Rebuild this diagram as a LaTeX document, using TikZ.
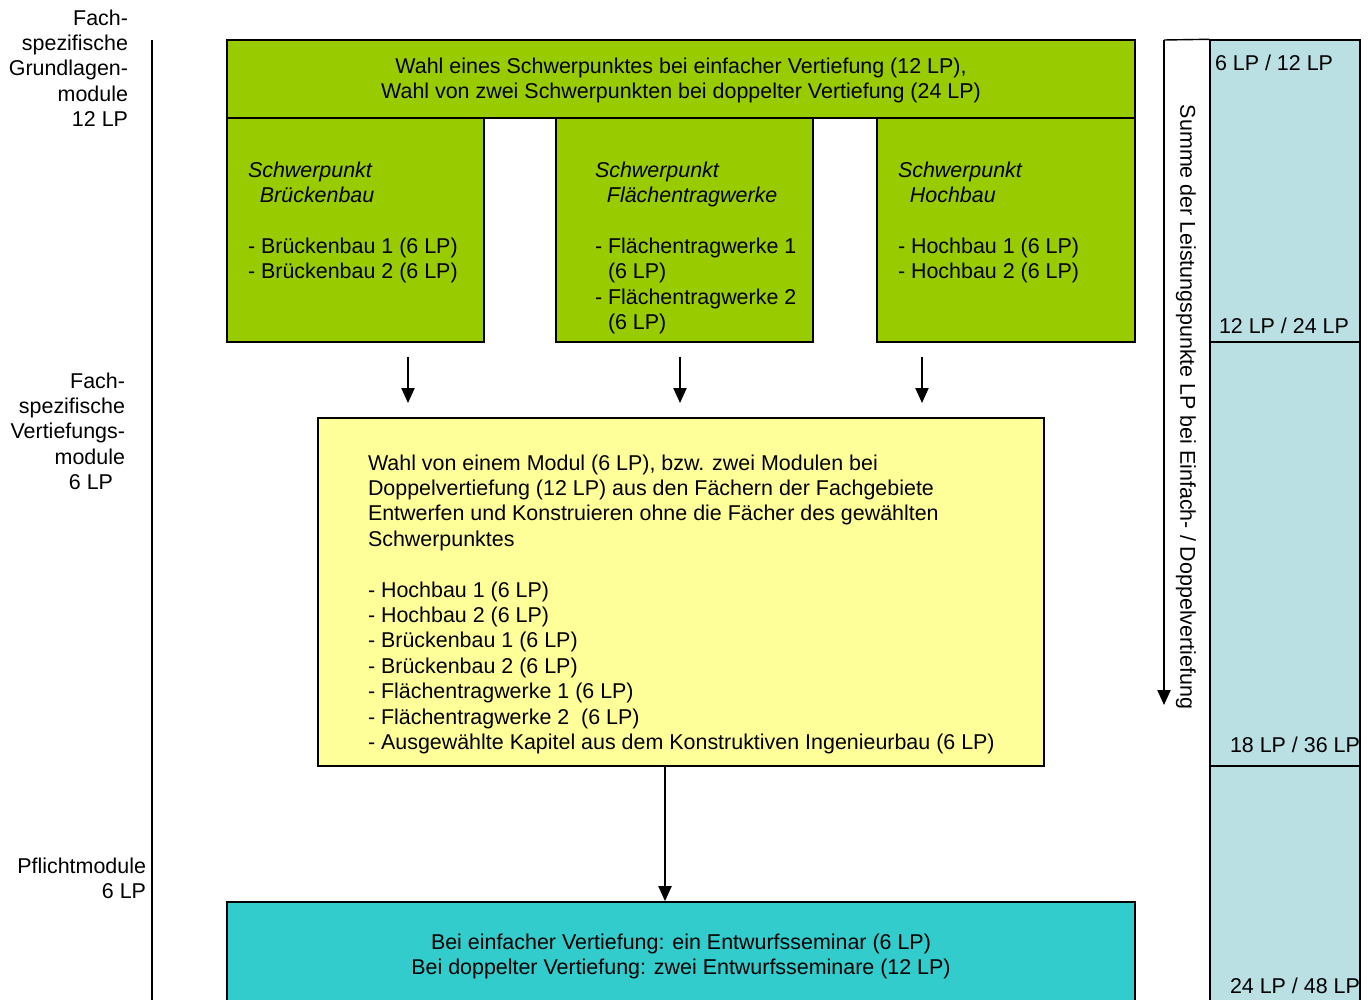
\documentclass[tikz,border=0pt]{standalone}
\usepackage{fontspec}
\setmainfont{Liberation Sans}
\usetikzlibrary{arrows.meta,fit}
\definecolor{modgreen}{RGB}{153,204,0}
\definecolor{modyellow}{RGB}{255,255,153}
\definecolor{modcyan}{RGB}{51,204,204}
\definecolor{sumblue}{RGB}{186,224,228}
\begin{document}
\begin{tikzpicture}[x=0.02cm,y=-0.02cm]
\tikzset{
  basefont/.style={font=\fontsize{12.2}{14.46}\selectfont, inner sep=0pt, outer sep=0pt},
  box/.style={draw=black, line width=0.8pt, inner sep=0pt},
  sidelbl/.style={basefont, align=right, anchor=north east},
  bodytxt/.style={basefont, align=left, anchor=north west},
  arr/.style={-{Triangle[length=8.5pt,width=7.5pt]}, line width=0.8pt},
}
\useasboundingbox (0,0) rectangle (1370,1000);

% left scale line and category labels
\coordinate (scaletop) at (152,40);
\coordinate (scalebot) at (152,1010);
\draw[line width=0.9pt] (scaletop) -- (scalebot);
\node[sidelbl] (lblA) at (128,9.5) {Fach-\\spezifische\\Grundlagen-\\module\hspace*{0.28em}\\12 LP};
\node[sidelbl] (lblB) at (125,372.5) {Fach-\\spezifische\\Vertiefungs-\\module\\6 LP\hspace*{0.56em}};
\node[sidelbl] (lblC) at (146,857.5) {Pflichtmodule\\6 LP};

% choice of focus areas
\node[box, fill=modgreen, fit={(227,40)(1135,118)}] (top) {};
\node[basefont, align=center, anchor=north] (toptxt) at (681,58)
  {Wahl eines Schwerpunktes bei einfacher Vertiefung (12 LP),\\Wahl von zwei Schwerpunkten bei doppelter Vertiefung (24 LP)};

\node[box, fill=modgreen, fit={(227,118)(484,342)}] (sp1) {};
\node[box, fill=modgreen, fit={(556,118)(813,342)}] (sp2) {};
\node[box, fill=modgreen, fit={(877,118)(1135,342)}] (sp3) {};
\draw[line width=0.8pt] (top.south west) -- (top.south east);

\node[bodytxt] (sp1txt) at (248,161.5)
  {\textit{Schwerpunkt}\\\hspace*{6.8pt}\textit{Brückenbau}\\[\baselineskip]- Brückenbau 1 (6 LP)\\- Brückenbau 2 (6 LP)};
\node[bodytxt] (sp2txt) at (595,161.5)
  {\textit{Schwerpunkt}\\\hspace*{6.8pt}\textit{Flächentragwerke}\\[\baselineskip]- Flächentragwerke 1\\\hspace*{7.4pt}(6 LP)\\- Flächentragwerke 2\\\hspace*{7.4pt}(6 LP)};
\node[bodytxt] (sp3txt) at (898,161.5)
  {\textit{Schwerpunkt}\\\hspace*{6.8pt}\textit{Hochbau}\\[\baselineskip]- Hochbau 1 (6 LP)\\- Hochbau 2 (6 LP)};

% arrows to the elective block
\coordinate (a1s) at (408,357); \coordinate (a1e) at (408,403);
\coordinate (a2s) at (680,357); \coordinate (a2e) at (680,403);
\coordinate (a3s) at (922,357); \coordinate (a3e) at (922,403);
\draw[arr] (a1s) -- (a1e);
\draw[arr] (a2s) -- (a2e);
\draw[arr] (a3s) -- (a3e);

% elective modules
\node[box, fill=modyellow, line width=1pt, fit={(318,418)(1044,766)}] (elect) {};
\node[bodytxt] (electtxt) at (368,454.5)
  {Wahl von einem Modul (6 LP), bzw. zwei Modulen bei\\
   Doppelvertiefung (12 LP) aus den Fächern der Fachgebiete\\
   Entwerfen und Konstruieren ohne die Fächer des gewählten\\
   Schwerpunktes\\[\baselineskip]
   - Hochbau 1 (6 LP)\\
   - Hochbau 2 (6 LP)\\
   - Brückenbau 1 (6 LP)\\
   - Brückenbau 2 (6 LP)\\
   - Flächentragwerke 1 (6 LP)\\
   - Flächentragwerke 2 \ (6 LP)\\
   - Ausgewählte Kapitel aus dem Konstruktiven Ingenieurbau (6 LP)};

% compulsory seminar
\node[box, fill=modcyan, line width=1pt, fit={(227,902)(1135,1012)}] (sem) {};
\node[basefont, align=center, anchor=north] (semtxt) at (681,933.5)
  {Bei einfacher Vertiefung: ein Entwurfsseminar (6 LP)\\Bei doppelter Vertiefung: zwei Entwurfsseminare (12 LP)};
\coordinate (mid) at (665,0);
\draw[arr] (elect.south -| mid) -- (sem.north -| mid);

% running total of credit points
\node[box, fill=sumblue, fit={(1210,40)(1360,1012)}] (sumcol) {};
\coordinate (sumtl) at (1164,40);
\coordinate (sumarr) at (1164,705);
\draw[line width=0.8pt] (sumtl) -- (sumcol.north west);
\draw[arr] (sumtl) -- (sumarr);
\coordinate (c1l) at (1210,342); \coordinate (c1r) at (1360,342);
\coordinate (c2l) at (1210,766); \coordinate (c2r) at (1360,766);
\draw[line width=0.8pt] (c1l) -- (c1r);
\draw[line width=0.8pt] (c2l) -- (c2r);
\node[bodytxt] (s1) at (1215,54.5) {6 LP / 12 LP};
\node[bodytxt] (s2) at (1219,317.5) {12 LP / 24 LP};
\node[bodytxt] (s3) at (1230,736.5) {18 LP / 36 LP};
\node[bodytxt] (s4) at (1230,977.5) {24 LP / 48 LP};
\node[basefont, rotate=-90, anchor=center] (sumtxt) at (1186,407)
  {Summe der Leistungspunkte LP bei Einfach- / Doppelvertiefung};
\end{tikzpicture}
\end{document}
